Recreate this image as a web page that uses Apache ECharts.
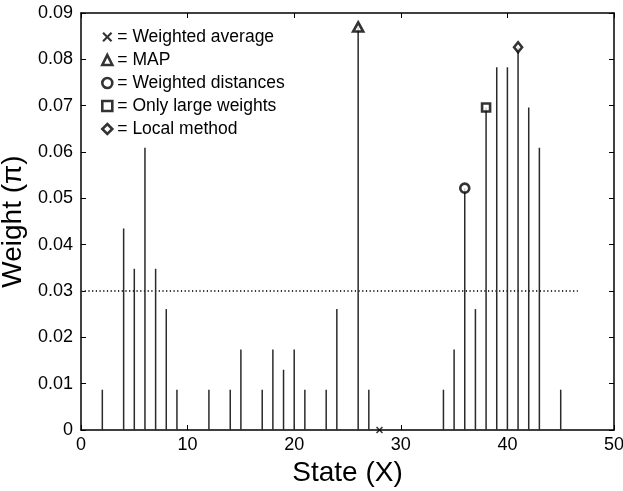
<!DOCTYPE html>
<html>
<head>
<meta charset="utf-8">
<script src="https://cdn.jsdelivr.net/npm/echarts@6/dist/echarts.min.js"></script>
<style>
  html, body { margin: 0; padding: 0; background: #fff; }
  #chart { width: 623px; height: 491px; }
</style>
</head>
<body>
<div id="chart"></div>
<script>
// stem plot data: state index and weight
var states = [2, 4, 5, 6, 7, 8, 9, 12, 14, 15, 17, 18, 19, 20, 21, 23, 24, 26, 27,
              34, 35, 36, 37, 38, 39, 40, 41, 42, 43, 45];
var weights = [0.0087, 0.0435, 0.0348, 0.0609, 0.0348, 0.0261, 0.0087, 0.0087, 0.0087, 0.0174,
               0.0087, 0.0174, 0.0130, 0.0174, 0.0087, 0.0087, 0.0261, 0.0870, 0.0087,
               0.0087, 0.0174, 0.0522, 0.0261, 0.0696, 0.0783, 0.0783, 0.0826, 0.0696, 0.0609, 0.0087];

// estimates of each method
var methodNames = ['Weighted average', 'MAP', 'Weighted distances', 'Only large weights', 'Local method'];
var methodX = [28, 26, 36, 38, 41];
var methodY = [0, 0.087, 0.0522, 0.0696, 0.0826];

// threshold line
var thresholdX = [0, 46.6];
var thresholdY = 0.03;

var xTicks = [0, 10, 20, 30, 40, 50];
var yTicks = [0, 0.01, 0.02, 0.03, 0.04, 0.05, 0.06, 0.07, 0.08, 0.09];

var crossPath = 'path://M1.5,0L5,3.5L8.5,0L10,1.5L6.5,5L10,8.5L8.5,10L5,6.5L1.5,10L0,8.5L3.5,5L0,1.5Z';
var symbols = [crossPath, 'triangle', 'circle', 'rect', 'diamond'];
var symbolSizes = [[7, 7], [10, 9], [9, 9], [8, 8], [8, 10]];

var markStyle = { color: '#fff', borderColor: '#000', borderWidth: 2.6 };

var stemData = [];
for (let i = 0; i < states.length; i++) {
    stemData.push([states[i], weights[i]]);
}

var series = [{
    type: 'bar',
    name: 'stems',
    data: stemData,
    barWidth: 1.5,
    itemStyle: { color: '#2a2a2a' },
    silent: true,
    z: 2
}, {
    type: 'line',
    name: 'threshold',
    data: [[thresholdX[0], thresholdY], [thresholdX[1], thresholdY]],
    symbol: 'none',
    lineStyle: { color: '#333', width: 2, type: [1.2, 2.5] },
    silent: true,
    z: 1
}];

for (let i = 0; i < methodNames.length; i++) {
    series.push({
        type: 'scatter',
        name: methodNames[i],
        data: [[methodX[i], methodY[i]]],
        symbol: symbols[i],
        symbolSize: symbolSizes[i],
        clip: false,
        itemStyle: i == 0 ? { color: '#000' } : markStyle,
        z: 5
    });
}

var chart = echarts.init(document.getElementById('chart'));
var fontFamily = 'Liberation Sans, Arial, sans-serif';

var option = {
    animation: false,
    backgroundColor: '#fff',
    grid: { left: 81, right: 9, top: 13, bottom: 61, outerBoundsMode: 'none', containLabel: false },
    legend: {
        orient: 'vertical',
        left: 96,
        top: 23,
        itemWidth: 10,
        itemHeight: 10,
        itemGap: 5,
        data: methodNames.map(function(n, i) {
            return {
                name: n,
                icon: symbols[i],
                itemStyle: i == 0 ? { color: '#000' } : { color: '#fff', borderColor: '#000', borderWidth: 2.6 }
            };
        }),
        formatter: '= {name}',
        textStyle: { fontFamily: fontFamily, fontSize: 17.5, color: '#000', lineHeight: 18 },
        selectedMode: false
    },
    xAxis: [{
        type: 'value',
        min: xTicks[0],
        max: xTicks[xTicks.length - 1],
        interval: 10,
        name: 'State (X)',
        nameLocation: 'middle',
        nameGap: 22,
        nameTextStyle: { fontFamily: fontFamily, fontSize: 28, color: '#000', verticalAlign: 'top' },
        axisLine: { onZero: false, lineStyle: { color: '#000', width: 1.5 } },
        axisTick: { inside: true, length: 5, lineStyle: { color: '#000' } },
        axisLabel: { fontFamily: fontFamily, fontSize: 18, color: '#000', margin: 6 },
        splitLine: { show: false }
    }, {
        type: 'value',
        position: 'top',
        min: 0,
        max: 50,
        interval: 10,
        axisLine: { onZero: false, lineStyle: { color: '#000', width: 1.5 } },
        axisTick: { inside: true, length: 5, lineStyle: { color: '#000' } },
        axisLabel: { show: false },
        splitLine: { show: false }
    }],
    yAxis: [{
        type: 'value',
        min: yTicks[0],
        max: yTicks[yTicks.length - 1],
        interval: 0.01,
        name: 'Weight (\u03c0)',
        nameLocation: 'middle',
        nameGap: 47,
        nameTextStyle: { fontFamily: fontFamily, fontSize: 28, color: '#000' },
        axisLine: { onZero: false, lineStyle: { color: '#000', width: 1.5 } },
        axisTick: { inside: true, length: 5, lineStyle: { color: '#000' } },
        axisLabel: {
            fontFamily: fontFamily, fontSize: 18, color: '#000', margin: 8,
            formatter: function(v) { return String(+v.toFixed(2)); }
        },
        splitLine: { show: false }
    }, {
        type: 'value',
        position: 'right',
        min: 0,
        max: 0.09,
        interval: 0.01,
        axisLine: { onZero: false, lineStyle: { color: '#000', width: 1.5 } },
        axisTick: { inside: true, length: 5, lineStyle: { color: '#000' } },
        axisLabel: { show: false },
        splitLine: { show: false }
    }],
    series: series
};

chart.setOption(option);
</script>
</body>
</html>
